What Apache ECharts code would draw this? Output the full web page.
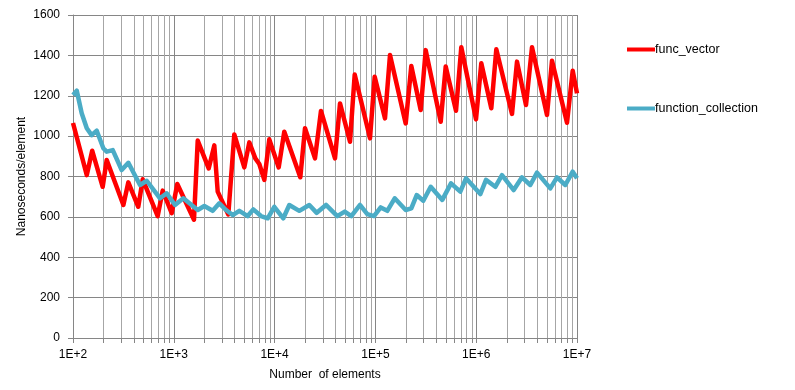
<!DOCTYPE html>
<html><head><meta charset="utf-8">
<script src="https://cdn.jsdelivr.net/npm/echarts@6/dist/echarts.min.js"></script>
<style>html,body{margin:0;padding:0;background:#fff}#c{width:795px;height:390px}</style>
</head><body><div id="c"></div>
<script>
// func_vector: number of elements and nanoseconds/element
const vectorN = [100,137,155,197,216,316,354,444,492,692,776,953,1083,1586,1727,
  2219,2522,2726,3473,3983,5005,5610,6437,7051,7907,8860,10980,12480,17990,20030,
  25170,28860,39740,44550,55980,62320,88400,98400,124500,139600,199800,227100,281400,
  315500,444500,498300,630300,711600,995400,1123700,1411800,1582700,2265600,2539700,
  3118900,3578400,5039500,5649400,7957700,9063000,10000000];
const vectorNs = [1065,807,928,749,882,659,771,650,786,604,730,618,763,586,978,
  840,954,725,612,1008,845,969,890,862,783,984,845,1022,796,1039,
  890,1125,890,1162,972,1305,989,1294,1088,1402,1063,1347,1129,
  1426,1071,1345,1126,1440,1083,1361,1138,1430,1110,1369,
  1154,1440,1105,1373,1066,1324,1212];
// function_collection
const collectionN = [100,109,122,137,153,172,200,216,248,304,354,462,539,730,850,1028,1243,1727,
  2007,2432,2828,3295,3840,4466,5410,6148,7331,8541,9930,12200,13990,17580,22090,26170,32360,
  41880,49600,57680,70340,83080,96850,112900,131200,155400,199800,227100,256900,298700,353700,
  461000,562300,695500,792200,1098500,1251000,1547000,1803000,2355000,2847000,3442000,4011000,
  5434000,6333000,7655000,9063000,10000000];
const collectionNs = [1204,1225,1113,1039,1005,1027,940,923,931,832,868,758,779,692,717,659,692,634,
  654,630,667,634,609,630,604,637,604,593,650,593,659,630,659,620,659,
  604,626,604,659,614,604,647,630,692,634,642,708,680,749,
  684,766,725,791,713,783,749,807,733,796,758,819,
  741,796,758,824,791];
const decades = [100,1000,10000,100000,1000000,10000000];
const xTickLabels = ['1E+2','1E+3','1E+4','1E+5','1E+6','1E+7'];
const minorMultipliers = [2,3,4,5,6,7,8,9];
const yMin = 0, yMax = 1600, yStep = 200;

const minorTicks = [];
decades.slice(0, -1).forEach(d => minorMultipliers.forEach(m => minorTicks.push(d * m)));

const font = 'Liberation Sans, Arial, sans-serif';
const chart = echarts.init(document.getElementById('c'), null, {renderer: 'canvas'});
chart.setOption({
  animation: false,
  backgroundColor: '#ffffff',
  grid: {left: 73, right: 218, top: 15, bottom: 52, containLabel: false},
  legend: {
    orient: 'vertical', left: 622, top: 38, itemGap: 46,
    icon: 'rect', itemWidth: 28, itemHeight: 4,
    textStyle: {fontFamily: font, fontSize: 12.5, color: '#000', padding: [0, 0, 0, -5]},
    data: ['func_vector', 'function_collection']
  },
  xAxis: {
    type: 'log', logBase: 10, min: decades[0], max: decades[decades.length - 1], splitNumber: 5,
    name: 'Number  of elements', nameLocation: 'middle', nameGap: 31,
    nameTextStyle: {fontFamily: font, fontSize: 12, color: '#000'},
    axisLine: {show: true, lineStyle: {color: '#868686', width: 1}},
    axisTick: {show: true, inside: false, length: 5, lineStyle: {color: '#868686'}},
    axisLabel: {
      fontFamily: font, fontSize: 12, color: '#000', margin: 11,
      formatter: v => xTickLabels[decades.findIndex(d => Math.abs(Math.log10(d) - Math.log10(v)) < 1e-6)] || ''
    },
    splitLine: {show: true, lineStyle: {color: '#868686', width: 1}}
  },
  yAxis: {
    type: 'value', min: yMin, max: yMax, interval: yStep,
    name: 'Nanoseconds/element', nameLocation: 'middle', nameGap: 45, nameMoveOverlap: false,
    nameTextStyle: {fontFamily: font, fontSize: 12, color: '#000'},
    axisLine: {show: true, lineStyle: {color: '#868686', width: 1}},
    axisTick: {show: true, inside: false, length: 5, lineStyle: {color: '#868686'}},
    axisLabel: {fontFamily: font, fontSize: 12, color: '#000', margin: 13, formatter: v => String(v)},
    splitLine: {show: true, lineStyle: {color: '#868686', width: 1}}
  },
  series: [
    {
      type: 'custom', silent: true, z: 1, clip: false,
      data: minorTicks.map(v => [v, 0]),
      encode: {x: 0, y: 1},
      renderItem: function (params, api) {
        const x = api.value(0);
        const t = api.coord([x, yMax]);
        const b = api.coord([x, yMin]);
        const px = Math.round(t[0]) + 0.5;
        return {
          type: 'group', children: [
            {type: 'line', shape: {x1: px, y1: t[1], x2: px, y2: b[1]}, style: {stroke: '#a6a6a6', lineWidth: 1}},
            {type: 'line', shape: {x1: px, y1: b[1], x2: px, y2: b[1] + 5}, style: {stroke: '#868686', lineWidth: 1}}
          ]
        };
      }
    },
    {
      name: 'func_vector', type: 'line', z: 3, symbol: 'none', showSymbol: false,
      color: '#ff0000',
      lineStyle: {color: '#ff0000', width: 4.5, join: 'round'},
      data: vectorN.map((n, i) => [n, vectorNs[i]])
    },
    {
      name: 'function_collection', type: 'line', z: 4, symbol: 'none', showSymbol: false,
      color: '#4bacc6',
      lineStyle: {color: '#4bacc6', width: 4.5, join: 'round'},
      data: collectionN.map((n, i) => [n, collectionNs[i]])
    }
  ]
});
</script>
</body></html>
